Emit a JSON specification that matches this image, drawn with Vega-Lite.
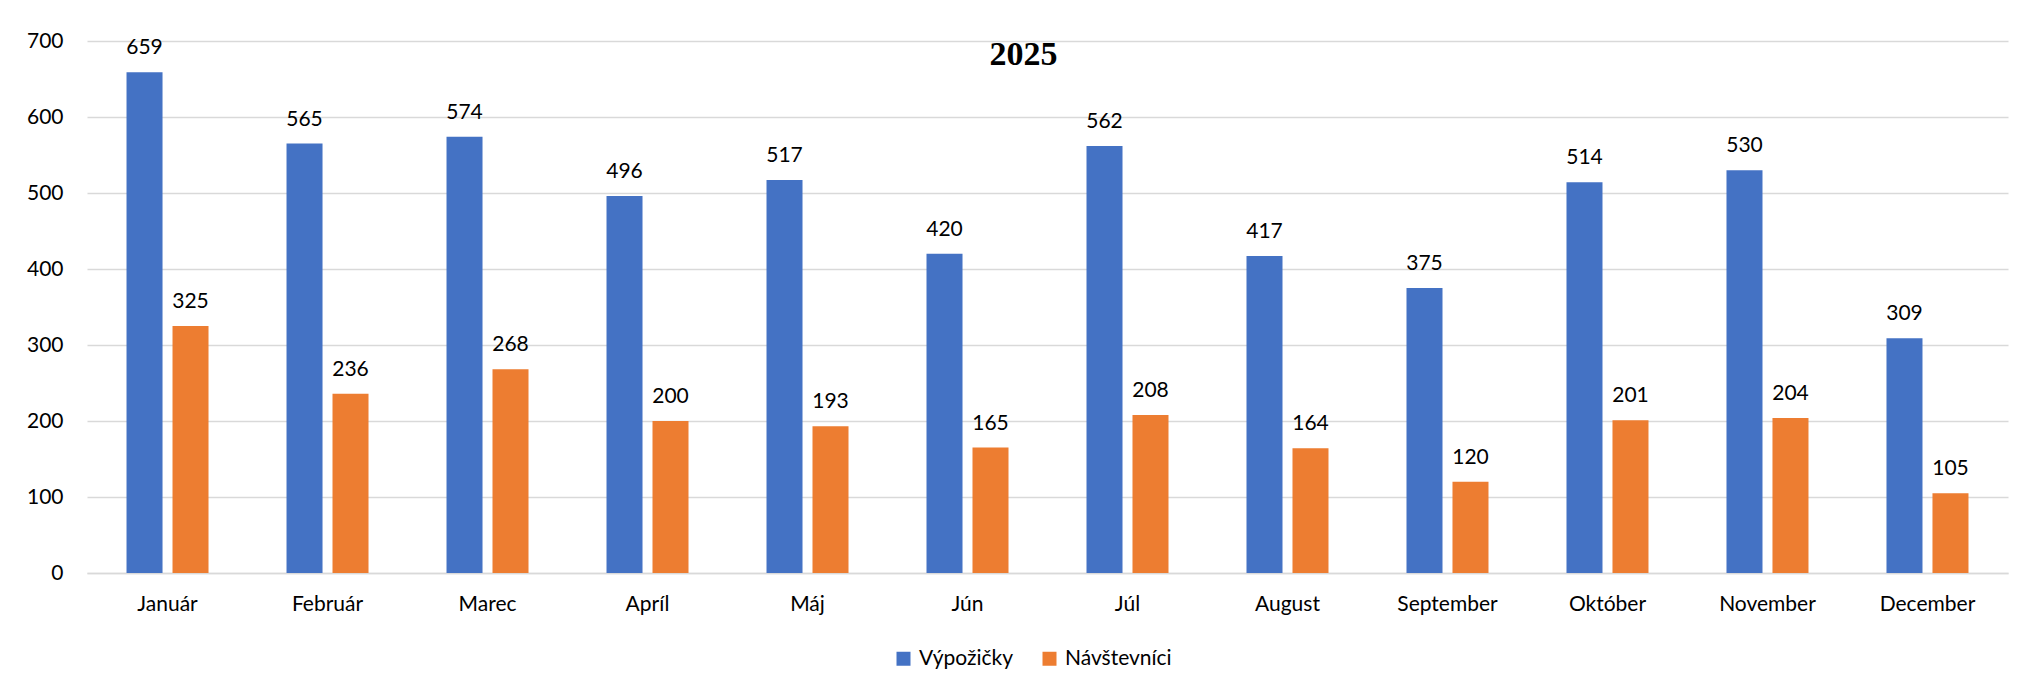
{
  "$schema": "https://vega.github.io/schema/vega-lite/v6.json",
  "autosize": {"type": "none"},
  "padding": {"left": 87, "top": 41, "right": 11, "bottom": 118},
  "width": 1921,
  "height": 532,
  "background": "white",
  "title": {
    "text": "2025",
    "font": "Liberation Serif",
    "fontSize": 34,
    "fontWeight": "bold",
    "color": "black",
    "anchor": "middle",
    "baseline": "alphabetic",
    "offset": -26,
    "dx": -24,
    "dy": 43
  },
  "data": {
    "values": [
      {"mesiac": "Január", "typ": "Výpožičky", "hodnota": 659},
      {"mesiac": "Január", "typ": "Návštevníci", "hodnota": 325},
      {"mesiac": "Február", "typ": "Výpožičky", "hodnota": 565},
      {"mesiac": "Február", "typ": "Návštevníci", "hodnota": 236},
      {"mesiac": "Marec", "typ": "Výpožičky", "hodnota": 574},
      {"mesiac": "Marec", "typ": "Návštevníci", "hodnota": 268},
      {"mesiac": "Apríl", "typ": "Výpožičky", "hodnota": 496},
      {"mesiac": "Apríl", "typ": "Návštevníci", "hodnota": 200},
      {"mesiac": "Máj", "typ": "Výpožičky", "hodnota": 517},
      {"mesiac": "Máj", "typ": "Návštevníci", "hodnota": 193},
      {"mesiac": "Jún", "typ": "Výpožičky", "hodnota": 420},
      {"mesiac": "Jún", "typ": "Návštevníci", "hodnota": 165},
      {"mesiac": "Júl", "typ": "Výpožičky", "hodnota": 562},
      {"mesiac": "Júl", "typ": "Návštevníci", "hodnota": 208},
      {"mesiac": "August", "typ": "Výpožičky", "hodnota": 417},
      {"mesiac": "August", "typ": "Návštevníci", "hodnota": 164},
      {"mesiac": "September", "typ": "Výpožičky", "hodnota": 375},
      {"mesiac": "September", "typ": "Návštevníci", "hodnota": 120},
      {"mesiac": "Október", "typ": "Výpožičky", "hodnota": 514},
      {"mesiac": "Október", "typ": "Návštevníci", "hodnota": 201},
      {"mesiac": "November", "typ": "Výpožičky", "hodnota": 530},
      {"mesiac": "November", "typ": "Návštevníci", "hodnota": 204},
      {"mesiac": "December", "typ": "Výpožičky", "hodnota": 309},
      {"mesiac": "December", "typ": "Návštevníci", "hodnota": 105}
    ]
  },
  "encoding": {
    "x": {
      "field": "mesiac",
      "type": "nominal",
      "sort": ["Január", "Február", "Marec", "Apríl", "Máj", "Jún", "Júl", "August", "September", "Október", "November", "December"],
      "scale": {"paddingInner": 0.4875, "paddingOuter": 0.247},
      "axis": {
        "title": null,
        "labelAngle": 0,
        "labelFont": "Lato",
        "labelFontSize": 21,
        "labelColor": "#000000",
        "labelPadding": 20,
        "ticks": false,
        "domain": true,
        "domainColor": "#d9d9d9",
        "domainWidth": 1.5,
        "grid": false
      }
    },
    "xOffset": {
      "field": "typ",
      "type": "nominal",
      "sort": ["Výpožičky", "Návštevníci"],
      "scale": {"paddingInner": 0.217, "paddingOuter": 0}
    },
    "y": {
      "field": "hodnota",
      "type": "quantitative",
      "scale": {"domain": [0, 700], "nice": false},
      "axis": {
        "title": null,
        "values": [0, 100, 200, 300, 400, 500, 600, 700],
        "labelFont": "Lato",
        "labelFontSize": 21,
        "labelColor": "#000000",
        "labelPadding": 24,
        "ticks": false,
        "domain": false,
        "grid": true,
        "gridColor": "#d9d9d9",
        "gridWidth": 1.5
      }
    }
  },
  "layer": [
    {
      "mark": {"type": "bar"},
      "encoding": {
        "color": {
          "field": "typ",
          "type": "nominal",
          "sort": ["Výpožičky", "Návštevníci"],
          "scale": {"domain": ["Výpožičky", "Návštevníci"], "range": ["#4472C4", "#ED7D31"]},
          "legend": {
            "title": null,
            "orient": "none",
            "legendX": 806,
            "legendY": 607,
            "direction": "horizontal",
            "symbolType": "square",
            "symbolSize": 196,
            "symbolStrokeWidth": 0,
            "labelFont": "Lato",
            "labelFontSize": 21,
            "labelColor": "#000000",
            "labelOffset": 5,
            "columnPadding": 25
          }
        }
      }
    },
    {
      "mark": {"type": "text", "baseline": "alphabetic", "dy": -18, "font": "Lato", "fontSize": 21, "color": "#000000"},
      "encoding": {
        "text": {"field": "hodnota", "type": "quantitative"}
      }
    }
  ],
  "config": {
    "view": {"stroke": null}
  }
}
